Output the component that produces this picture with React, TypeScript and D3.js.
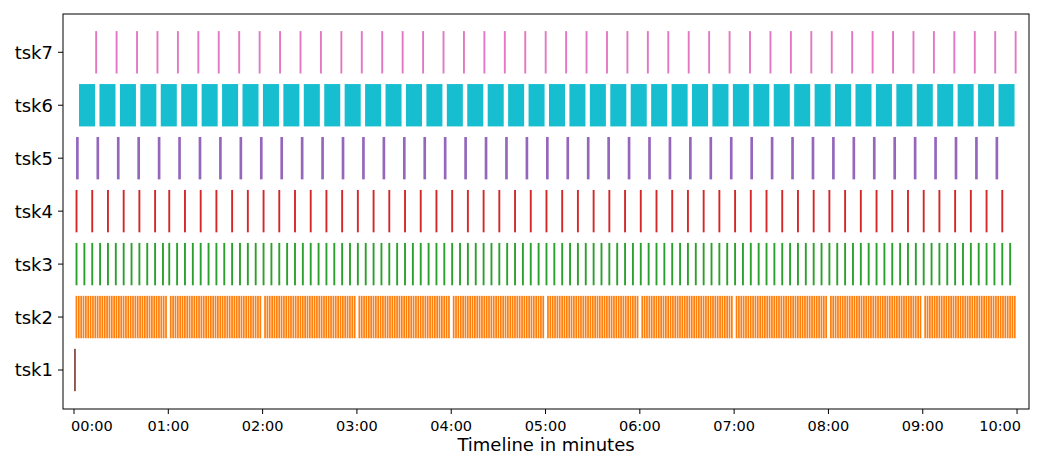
import React from "react";
import * as d3 from "d3";

// task names, bottom to top
const tasks = ["tsk1", "tsk2", "tsk3", "tsk4", "tsk5", "tsk6", "tsk7"];
const colors = ["#8c564b", "#ff7f0e", "#2ca02c", "#d62728", "#9467bd", "#17becf", "#e377c2"];

// run duration of each task, seconds
const durations = [1.2, 1.1, 1.2, 1.2, 1.7, 10.2, 1.2];

// start times, seconds
const tsk1Start = [0];

const tsk2Start = [
  1, 2.5, 4, 5.5, 7, 8.5, 10, 11.5, 13, 14.5, 16, 17.5, 19, 20.5, 22, 23.5, 25, 26.5, 28, 29.5, 31, 32.5, 34, 35.5, 37, 38.5, 40, 41.5, 43, 44.5, 46, 47.5, 49, 50.5, 52, 53.5, 55, 56.5, 58,
  61, 62.5, 64, 65.5, 67, 68.5, 70, 71.5, 73, 74.5, 76, 77.5, 79, 80.5, 82, 83.5, 85, 86.5, 88, 89.5, 91, 92.5, 94, 95.5, 97, 98.5, 100, 101.5, 103, 104.5, 106, 107.5, 109, 110.5, 112, 113.5, 115, 116.5, 118,
  121, 122.5, 124, 125.5, 127, 128.5, 130, 131.5, 133, 134.5, 136, 137.5, 139, 140.5, 142, 143.5, 145, 146.5, 148, 149.5, 151, 152.5, 154, 155.5, 157, 158.5, 160, 161.5, 163, 164.5, 166, 167.5, 169, 170.5, 172, 173.5, 175, 176.5, 178,
  181, 182.5, 184, 185.5, 187, 188.5, 190, 191.5, 193, 194.5, 196, 197.5, 199, 200.5, 202, 203.5, 205, 206.5, 208, 209.5, 211, 212.5, 214, 215.5, 217, 218.5, 220, 221.5, 223, 224.5, 226, 227.5, 229, 230.5, 232, 233.5, 235, 236.5, 238,
  241, 242.5, 244, 245.5, 247, 248.5, 250, 251.5, 253, 254.5, 256, 257.5, 259, 260.5, 262, 263.5, 265, 266.5, 268, 269.5, 271, 272.5, 274, 275.5, 277, 278.5, 280, 281.5, 283, 284.5, 286, 287.5, 289, 290.5, 292, 293.5, 295, 296.5, 298,
  301, 302.5, 304, 305.5, 307, 308.5, 310, 311.5, 313, 314.5, 316, 317.5, 319, 320.5, 322, 323.5, 325, 326.5, 328, 329.5, 331, 332.5, 334, 335.5, 337, 338.5, 340, 341.5, 343, 344.5, 346, 347.5, 349, 350.5, 352, 353.5, 355, 356.5, 358,
  361, 362.5, 364, 365.5, 367, 368.5, 370, 371.5, 373, 374.5, 376, 377.5, 379, 380.5, 382, 383.5, 385, 386.5, 388, 389.5, 391, 392.5, 394, 395.5, 397, 398.5, 400, 401.5, 403, 404.5, 406, 407.5, 409, 410.5, 412, 413.5, 415, 416.5, 418,
  421, 422.5, 424, 425.5, 427, 428.5, 430, 431.5, 433, 434.5, 436, 437.5, 439, 440.5, 442, 443.5, 445, 446.5, 448, 449.5, 451, 452.5, 454, 455.5, 457, 458.5, 460, 461.5, 463, 464.5, 466, 467.5, 469, 470.5, 472, 473.5, 475, 476.5, 478,
  481, 482.5, 484, 485.5, 487, 488.5, 490, 491.5, 493, 494.5, 496, 497.5, 499, 500.5, 502, 503.5, 505, 506.5, 508, 509.5, 511, 512.5, 514, 515.5, 517, 518.5, 520, 521.5, 523, 524.5, 526, 527.5, 529, 530.5, 532, 533.5, 535, 536.5, 538,
  541, 542.5, 544, 545.5, 547, 548.5, 550, 551.5, 553, 554.5, 556, 557.5, 559, 560.5, 562, 563.5, 565, 566.5, 568, 569.5, 571, 572.5, 574, 575.5, 577, 578.5, 580, 581.5, 583, 584.5, 586, 587.5, 589, 590.5, 592, 593.5, 595, 596.5, 598,
];

const tsk3Start = [
  1, 6, 11, 16, 21, 26, 31, 36, 41, 46, 51, 56,
  60, 65, 70, 75, 80, 85, 90, 95, 100, 105, 110, 115, 120, 125, 130, 135, 140, 145, 150, 155, 160, 165, 170, 175,
  180, 185, 190, 195, 200, 205, 210, 215, 220, 225, 230, 235, 240, 245, 250, 255, 260, 265, 270, 275, 280, 285, 290, 295,
  300, 305, 310, 315, 320, 325, 330, 335, 340, 345, 350, 355, 360, 365, 370, 375, 380, 385, 390, 395, 400, 405, 410, 415,
  420, 425, 430, 435, 440, 445, 450, 455, 460, 465, 470, 475, 480, 485, 490, 495, 500, 505, 510, 515, 520, 525, 530, 535,
  540, 545, 550, 555, 560, 565, 570, 575, 580, 585, 590, 595,
];

const tsk4Start = [
  1, 11, 21, 31, 41, 51, 60, 70, 80, 90, 100, 110, 120, 130, 140, 150, 160, 170, 180, 190, 200, 210, 220, 230, 240,
  250, 260, 270, 280, 290, 300, 310, 320, 330, 340, 350, 360, 370, 380, 390, 400, 410, 420, 430, 440, 450, 460, 470,
  480, 490, 500, 510, 520, 530, 540, 550, 560, 570, 580, 590,
];

const tsk5Start = [
  1.3, 14.3, 27.3, 40.3, 53.3, 66.3, 79.3, 92.3, 105.3, 118.3, 131.3, 144.3, 157.3, 170.3, 183.3, 196.3, 209.3, 222.3,
  235.3, 248.3, 261.3, 274.3, 287.3, 300.3, 313.3, 326.3, 339.3, 352.3, 365.3, 378.3, 391.3, 404.3, 417.3, 430.3, 443.3,
  456.3, 469.3, 482.3, 495.3, 508.3, 521.3, 534.3, 547.3, 560.3, 573.3, 586.3,
];

const tsk6Start = [
  3.2, 16.2, 29.2, 42.2, 55.2, 68.2, 81.2, 94.2, 107.2, 120.2, 133.2, 146.2, 159.2, 172.2, 185.2, 198.2, 211.2, 224.2,
  237.2, 250.2, 263.2, 276.2, 289.2, 302.2, 315.2, 328.2, 341.2, 354.2, 367.2, 380.2, 393.2, 406.2, 419.2, 432.2, 445.2,
  458.2, 471.2, 484.2, 497.2, 510.2, 523.2, 536.2, 549.2, 562.2, 575.2, 588.2,
];

const tsk7Start = [
  13.5, 26.5, 39.5, 52.5, 65.5, 78.5, 91.5, 104.5, 117.5, 130.5, 143.5, 156.5, 169.5, 182.5, 195.5, 208.5, 221.5, 234.5,
  247.5, 260.5, 273.5, 286.5, 299.5, 312.5, 325.5, 338.5, 351.5, 364.5, 377.5, 390.5, 403.5, 416.5, 429.5, 442.5, 455.5,
  468.5, 481.5, 494.5, 507.5, 520.5, 533.5, 546.5, 559.5, 572.5, 585.5, 598.5,
];

const starts = [tsk1Start, tsk2Start, tsk3Start, tsk4Start, tsk5Start, tsk6Start, tsk7Start];

const xTicks = [0, 60, 120, 180, 240, 300, 360, 420, 480, 540, 600];
const xTickLabels = ["00:00", "01:00", "02:00", "03:00", "04:00", "05:00", "06:00", "07:00", "08:00", "09:00", "10:00"];

const W = 1037;
const H = 454;
const left = 63;
const right = 1029;
const top = 14;
const bottom = 409;
const font = "DejaVu Sans, sans-serif";

export default function App() {
  const x = d3.scaleLinear().domain([-7, 607.6]).range([left, right]);
  const y = d3.scaleLinear().domain([0.2635, 7.723]).range([bottom, top]);
  const last = xTicks.length - 1;

  return (
    <div style={{ position: "absolute", left: 0, top: 0 }}>
      <svg width={W} height={H} style={{ display: "block", background: "#fff" }}>
        <g>
          {starts.map((list, i) => {
            const row = i + 1;
            const y0 = y(row + 0.4);
            const h = y(row - 0.4) - y0;
            return (
              <g key={tasks[i]} fill={colors[i]}>
                {list.map((s, j) => (
                  <rect key={j} x={x(s)} y={y0} width={x(s + durations[i]) - x(s)} height={h} />
                ))}
              </g>
            );
          })}
        </g>

        {/* frame */}
        <rect x={left} y={top} width={right - left} height={bottom - top} fill="none" stroke="#000" strokeWidth={1} />

        {/* x axis: end labels are pulled inside the frame */}
        <g fontFamily={font} fontSize={14.5} fill="#000">
          {xTicks.map((t, i) => (
            <g key={t}>
              <line x1={x(t)} x2={x(t)} y1={bottom} y2={bottom + 5} stroke="#000" strokeWidth={1} />
              <text
                x={i === 0 ? x(t) - 3 : i === last ? x(t) + 4 : x(t)}
                y={bottom + 22}
                textAnchor={i === 0 ? "start" : i === last ? "end" : "middle"}
              >
                {xTickLabels[i]}
              </text>
            </g>
          ))}
        </g>
        <text x={(left + right) / 2} y={451} fontFamily={font} fontSize={18} textAnchor="middle" fill="#000">
          Timeline in minutes
        </text>

        {/* y axis */}
        <g fontFamily={font} fontSize={18} fill="#000" textAnchor="end">
          {tasks.map((name, i) => (
            <g key={name}>
              <line x1={left - 5} x2={left} y1={y(i + 1)} y2={y(i + 1)} stroke="#000" strokeWidth={1} />
              <text x={left - 10} y={y(i + 1)} dy="0.36em">{name}</text>
            </g>
          ))}
        </g>
      </svg>
    </div>
  );
}
